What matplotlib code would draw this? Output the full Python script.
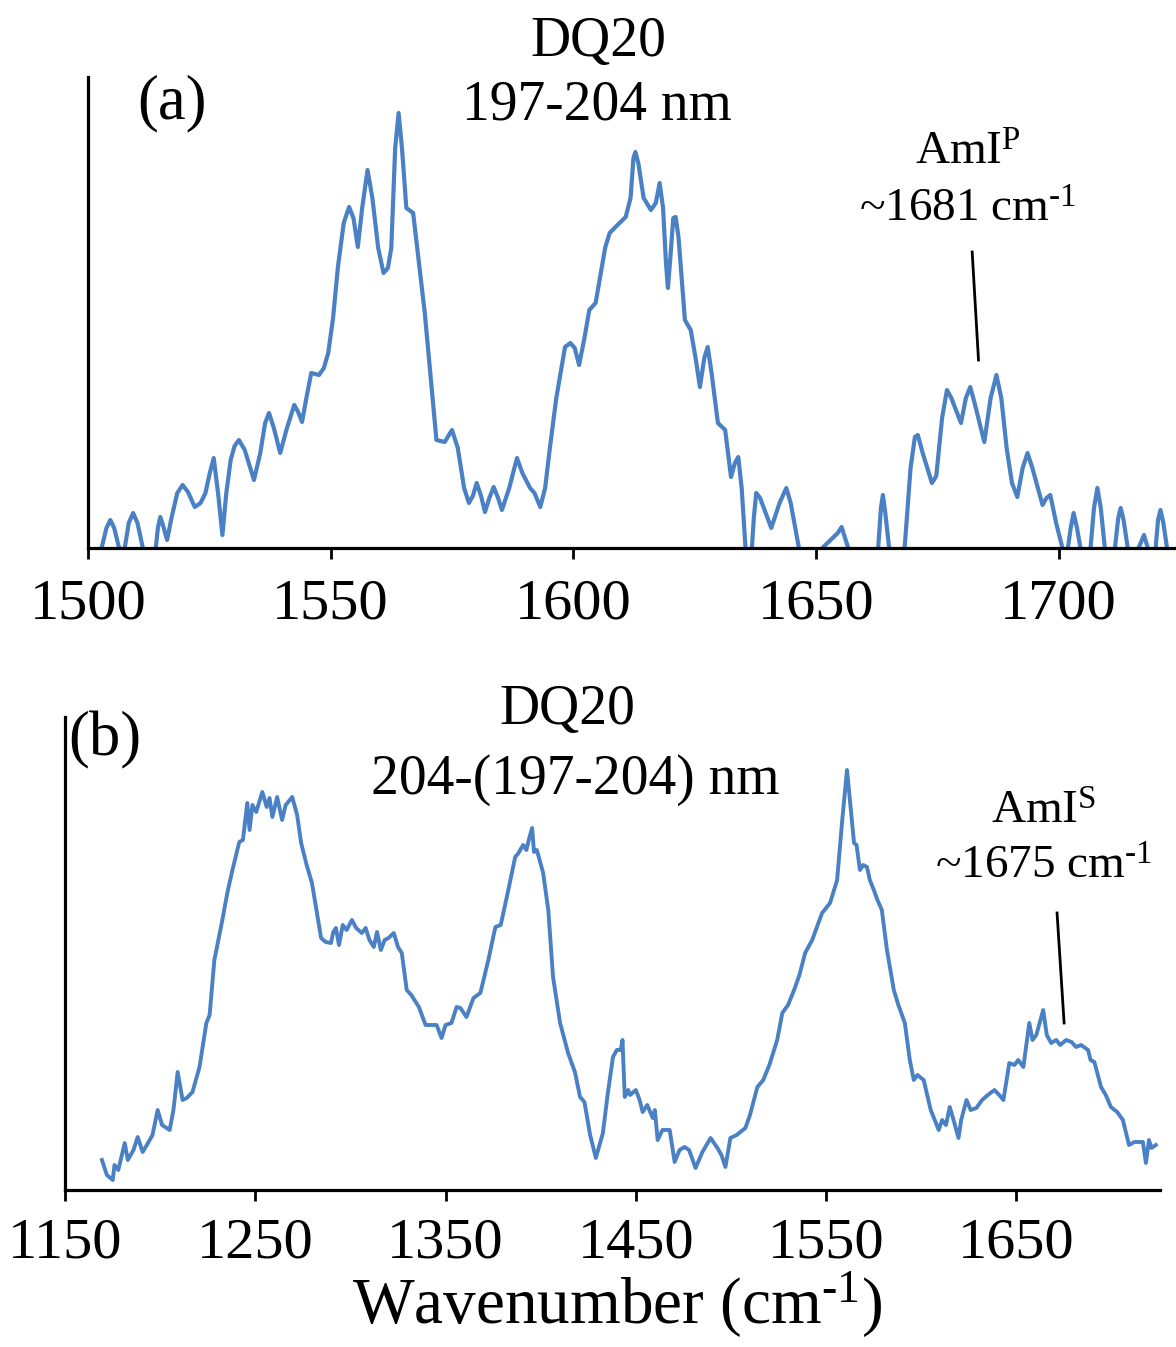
import matplotlib
matplotlib.use("Agg")
import matplotlib.pyplot as plt

plt.rcParams['font.family'] = ['Liberation Serif', 'DejaVu Serif']
plt.rcParams['mathtext.fontset'] = 'custom'
plt.rcParams['mathtext.rm'] = 'Liberation Serif'
plt.rcParams['mathtext.it'] = 'Liberation Serif:italic'

# ---------------- data: panel (a) ----------------
a_wn = [1501.0, 1502.8, 1503.8, 1504.6, 1505.4, 1506.4, 1507.5, 1508.4, 1509.3, 1510.2,
        1511.3, 1512.5, 1513.9, 1514.4, 1514.9, 1515.5, 1516.3, 1517.2, 1518.4, 1519.5,
        1520.6, 1522.0, 1523.2, 1524.2, 1525.1, 1525.9, 1526.8, 1527.7, 1528.5, 1529.4,
        1530.2, 1531.1, 1532.3, 1534.2, 1535.5, 1536.5, 1537.3, 1538.3, 1539.6, 1541.0,
        1542.5, 1543.3, 1544.1, 1545.0, 1546.0, 1547.6, 1548.6, 1549.5, 1550.5, 1551.5,
        1552.7, 1553.8, 1554.7, 1555.6, 1556.5, 1557.6, 1558.6, 1559.8, 1560.9, 1561.8,
        1562.5, 1563.3, 1564.0, 1564.7, 1565.6, 1567.0, 1569.4, 1571.8, 1573.5, 1575.0,
        1576.2, 1577.5, 1578.5, 1579.3, 1580.1, 1581.0, 1581.8, 1582.7, 1583.6, 1584.5,
        1585.3, 1586.8, 1588.4, 1589.5, 1591.1, 1592.0, 1593.2, 1594.2, 1595.2, 1596.5,
        1598.3, 1599.4, 1600.3, 1601.2, 1602.3, 1603.3, 1604.6, 1605.5, 1606.6, 1607.5,
        1608.7, 1610.8, 1611.8, 1612.4, 1612.8, 1613.4, 1614.5, 1616.0, 1617.0, 1617.8,
        1618.5, 1619.1, 1619.5, 1620.0, 1620.6, 1621.1, 1621.7, 1623.0, 1624.2, 1625.2,
        1626.1, 1627.0, 1627.7, 1628.5, 1629.8, 1631.3, 1632.5, 1633.3, 1634.0, 1634.7,
        1635.6, 1636.7, 1637.2, 1637.7, 1638.5, 1640.8, 1642.5, 1643.9, 1644.8, 1646.8,
        1648.5, 1650.9, 1653.0, 1654.5, 1655.3, 1656.0, 1657.0, 1661.0, 1662.8, 1663.4,
        1663.8, 1664.3, 1665.2, 1668.2, 1669.5, 1670.4, 1671.0, 1672.0, 1673.9, 1674.8,
        1676.0, 1677.0, 1677.9, 1679.9, 1680.9, 1681.8, 1682.7, 1684.7, 1686.0, 1687.2,
        1688.2, 1689.3, 1690.4, 1691.5, 1692.6, 1693.6, 1694.6, 1696.7, 1697.5, 1698.3,
        1699.5, 1700.8, 1701.7, 1702.5, 1703.1, 1703.8, 1704.8, 1706.5, 1707.3, 1708.0,
        1708.7, 1709.7, 1711.5, 1712.3, 1712.8, 1713.4, 1714.5, 1716.5, 1717.6, 1718.7,
        1720.0, 1720.5, 1721.0, 1721.6, 1722.5, 1724.2]
a_int = [-10, 0, 20, 28, 20, 0, -2, 25, 35, 25,
         0, -5, -3, 20, 31, 22, 8, 30, 55, 63,
         56, 41, 45, 55, 75, 90, 55, 13, 55, 88,
         102, 108, 98, 68, 95, 125, 135, 120, 95, 120,
         143, 136, 126, 150, 175, 173, 180, 195, 230, 281,
         325, 341, 330, 301, 340, 378, 350, 300, 275, 280,
         300, 400, 435, 400, 340, 335, 235, 108, 106, 118,
         100, 60, 45, 52, 65, 52, 36, 50, 61, 50,
         38, 60, 90, 75, 60, 55, 41, 60, 101, 150,
         201, 205, 200, 183, 210, 238, 245, 270, 301, 315,
         321, 331, 350, 390, 396, 385, 350, 338, 345, 365,
         340, 285, 260, 290, 330, 331, 310, 228, 218, 190,
         161, 190, 201, 175, 125, 118, 71, 85, 91, 60,
         -8, -8, 30, 55, 50, 20, 45, 60, 45, -8,
         -10, -2, 8, 15, 21, 10, -5, -8, -2, 40,
         53, 35, -5, -5, 80, 111, 113, 95, 65, 72,
         130, 158, 150, 125, 150, 161, 145, 106, 150, 173,
         150, 100, 65, 51, 80, 95, 80, 43, 50, 53,
         25, 0, -8, 20, 35, 20, -8, -5, 40, 60,
         40, -8, -5, 30, 40, 28, -8, 0, 13, -5,
         0, 28, 38, 25, -5, -10]

# ---------------- data: panel (b) ----------------
b_wn = [1169.4, 1172.0, 1175.1, 1176.0, 1178.0, 1181.4, 1183.0, 1186.0, 1188.2, 1190.8,
        1193.0, 1196.0, 1198.7, 1201.0, 1205.0, 1207.0, 1209.2, 1211.8, 1214.0, 1217.0,
        1220.7, 1224.3, 1226.0, 1228.5, 1232.7, 1235.3, 1238.0, 1241.6, 1243.5, 1245.8,
        1247.0, 1248.5, 1250.5, 1253.7, 1256.0, 1257.5, 1259.0, 1261.5, 1264.1, 1266.0,
        1269.4, 1272.0, 1274.1, 1277.0, 1279.8, 1284.6, 1287.0, 1289.8, 1291.0, 1292.4,
        1294.0, 1296.0, 1298.0, 1300.8, 1303.0, 1306.0, 1308.0, 1310.0, 1312.3, 1314.0,
        1316.0, 1318.0, 1320.0, 1322.8, 1325.0, 1327.0, 1329.6, 1332.0, 1336.0, 1339.5,
        1342.0, 1345.3, 1347.9, 1350.0, 1353.1, 1355.8, 1357.8, 1361.0, 1364.7, 1368.3,
        1372.5, 1376.2, 1379.0, 1383.0, 1386.6, 1388.0, 1390.8, 1392.5, 1394.0, 1395.5,
        1396.5, 1398.0, 1401.3, 1404.0, 1406.5, 1410.2, 1414.4, 1418.0, 1420.7, 1423.0,
        1426.0, 1429.0, 1432.7, 1435.3, 1438.0, 1440.0, 1442.1, 1443.0, 1444.2, 1446.0,
        1447.0, 1450.0, 1452.0, 1453.6, 1456.0, 1458.9, 1460.0, 1461.5, 1464.0, 1467.8,
        1470.4, 1473.0, 1475.6, 1478.0, 1481.4, 1485.0, 1489.3, 1492.9, 1495.0, 1497.1,
        1499.7, 1503.0, 1507.6, 1510.0, 1513.9, 1517.0, 1520.2, 1524.3, 1527.0, 1530.0,
        1533.2, 1536.0, 1539.0, 1542.7, 1545.0, 1547.9, 1552.1, 1555.8, 1558.5, 1561.0,
        1562.5, 1564.7, 1566.0, 1567.8, 1569.5, 1571.5, 1573.0, 1575.1, 1577.0, 1579.3,
        1582.0, 1585.6, 1588.0, 1591.4, 1594.0, 1596.1, 1598.0, 1601.3, 1605.0, 1609.2,
        1611.0, 1613.0, 1615.0, 1617.0, 1619.6, 1621.0, 1623.8, 1626.0, 1629.0, 1632.0,
        1635.0, 1638.5, 1641.0, 1643.2, 1646.3, 1649.0, 1651.0, 1653.7, 1656.8, 1658.5,
        1660.5, 1664.1, 1666.0, 1668.3, 1671.0, 1673.0, 1676.2, 1679.0, 1681.4, 1684.0,
        1687.7, 1689.0, 1691.0, 1694.5, 1697.0, 1699.7, 1703.0, 1706.0, 1709.2, 1712.0,
        1716.5, 1718.1, 1719.7, 1721.0, 1723.3]
b_int = [30, 15, 10, 25, 20, 47, 30, 40, 53, 38,
         45, 55, 80, 65, 60, 80, 118, 90, 92, 98,
         123, 167, 175, 230, 270, 297, 320, 348, 350, 387,
         360, 385, 378, 398, 383, 392, 373, 393, 370, 385,
         393, 375, 347, 325, 307, 252, 248, 247, 258, 262,
         245, 265, 260, 270, 262, 257, 262, 250, 243, 258,
         240, 250, 252, 257, 243, 237, 200, 195, 183, 165,
         165, 165, 152, 165, 167, 183, 182, 173, 192, 197,
         230, 263, 265, 300, 333, 336, 345, 340, 352, 362,
         338, 340, 317, 280, 213, 167, 137, 118, 93, 88,
         55, 32, 57, 97, 133, 140, 140, 150, 93, 100,
         95, 100, 90, 78, 85, 72, 80, 50, 60, 60,
         28, 40, 43, 40, 22, 38, 52, 42, 35, 23,
         52, 55, 62, 75, 103, 110, 125, 150, 177, 185,
         200, 215, 237, 250, 262, 277, 287, 310, 370, 420,
         390, 347, 345, 320, 325, 323, 310, 300, 290, 280,
         240, 200, 185, 167, 130, 110, 115, 110, 80, 60,
         70, 65, 83, 70, 52, 70, 90, 80, 82, 90,
         95, 100, 95, 90, 127, 125, 130, 123, 167, 150,
         155, 180, 155, 147, 150, 145, 150, 148, 143, 145,
         140, 130, 128, 103, 95, 83, 78, 70, 45, 48,
         48, 27, 50, 42, 45]

a_ticks = [1500, 1550, 1600, 1650, 1700]
b_ticks = [1150, 1250, 1350, 1450, 1550, 1650]

LINE = '#4a80c4'
W, H = 1176, 1347
fig = plt.figure(figsize=(W / 100, H / 100), dpi=100)


def fx(px):
    return px / W


def fy(py):
    return 1 - py / H


ax_a = fig.add_axes([fx(88), fy(548), fx(1176 - 88), (548 - 77) / H])
ax_b = fig.add_axes([fx(65), fy(1190), fx(1160 - 65), (1190 - 717) / H])

for ax in (ax_a, ax_b):
    for s in ('top', 'right'):
        ax.spines[s].set_visible(False)
    for s in ('left', 'bottom'):
        ax.spines[s].set_linewidth(2.3)
        ax.spines[s].set_color('black')
    ax.set_yticks([])
    ax.tick_params(axis='x', direction='out', length=8, width=2, labelsize=42)

ax_a.plot(a_wn, a_int, color=LINE, lw=3.0, solid_joinstyle='round')
ax_a.set_xlim(1500, 1724.2)
ax_a.set_ylim(0, 471)
ax_a.set_xticks(a_ticks)
ax_a.tick_params(axis='x', pad=14)

ax_b.plot(b_wn, b_int, color=LINE, lw=2.8, solid_joinstyle='round')
ax_b.set_xlim(1150, 1725.5)
ax_b.set_ylim(0, 473)
ax_b.set_xticks(b_ticks)
ax_b.tick_params(axis='x', pad=12)

SUP = r'$^{\text{-1}}$'

# annotations panel (a)
ax_a.plot([1682.2, 1683.5], [296, 188], color='black', lw=2)
ax_a.text(1681.3, 395, r'AmI$^{\mathrm{P}}$', ha='center', va='center', fontsize=34)
ax_a.text(1681.3, 338, '~1681 cm' + SUP, ha='center', va='center', fontsize=34)

# annotations panel (b)
ax_b.plot([1671.4, 1675.1], [277, 167], color='black', lw=2)
ax_b.text(1664.6, 378, r'AmI$^{\mathrm{S}}$', ha='center', va='center', fontsize=34)
ax_b.text(1664.6, 323, '~1675 cm' + SUP, ha='center', va='center', fontsize=34)

# titles
fig.text(fx(598), fy(42), 'DQ20', ha='center', va='center', fontsize=40)
fig.text(fx(597), fy(105), '197-204 nm', ha='center', va='center', fontsize=40)
fig.text(fx(172), fy(103), '(a)', ha='center', va='center', fontsize=45)

fig.text(fx(567), fy(710), 'DQ20', ha='center', va='center', fontsize=40)
fig.text(fx(575), fy(780), '204-(197-204) nm', ha='center', va='center', fontsize=40)
fig.text(fx(105), fy(740), '(b)', ha='center', va='center', fontsize=45)

fig.text(fx(617), fy(1305), 'Wavenumber (cm' + SUP + ')', ha='center', va='center', fontsize=47)

fig.savefig('out.png', dpi=100, facecolor='white')
